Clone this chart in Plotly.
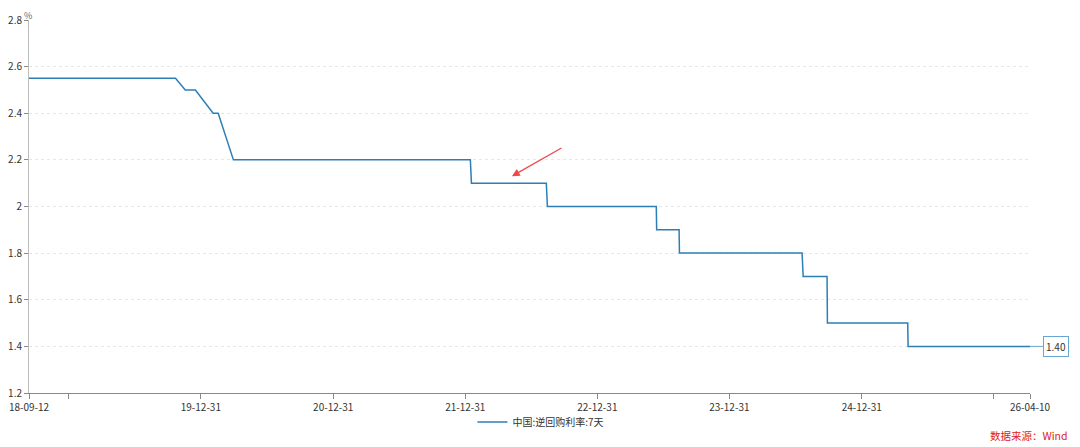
import plotly.graph_objects as go

dates = ["2018-09-12", "2019-10-22", "2019-11-18", "2019-12-16", "2020-02-03", "2020-02-17",
         "2020-03-30", "2022-01-14", "2022-01-17", "2022-08-12", "2022-08-15", "2023-06-12",
         "2023-06-13", "2023-08-14", "2023-08-15", "2024-07-19", "2024-07-22", "2024-09-26",
         "2024-09-27", "2025-05-07", "2025-05-08", "2026-04-10"]
rates = [2.55, 2.55, 2.50, 2.50, 2.40, 2.40,
         2.20, 2.20, 2.10, 2.10, 2.00, 2.00,
         1.90, 1.90, 1.80, 1.80, 1.70, 1.70,
         1.50, 1.50, 1.40, 1.40]
series_name = "中国:逆回购利率:7天"
tick_dates = ["2018-09-12", "2018-12-31", "2019-12-31", "2020-12-31", "2021-12-31",
              "2022-12-31", "2023-12-31", "2024-12-31", "2025-12-31", "2026-04-10"]
tick_labels = ["18-09-12", "", "19-12-31", "20-12-31", "21-12-31",
               "22-12-31", "23-12-31", "24-12-31", "", "26-04-10"]
y_ticks = [1.2, 1.4, 1.6, 1.8, 2.0, 2.2, 2.4, 2.6, 2.8]
y_labels = ["1.2", "1.4", "1.6", "1.8", "2", "2.2", "2.4", "2.6", "2.8"]

FONT = "Noto Sans CJK SC, Noto Sans, sans-serif"
LINE = "#2E7EB6"

fig = go.Figure()
fig.add_trace(go.Scatter(x=dates, y=rates, mode="lines", name=series_name,
                         line=dict(color=LINE, width=1.5)))

# page body has an 8px margin; size the figure to fit the 1080x447 window
fig.update_layout(
    width=1072, height=439,
    margin=dict(l=21, r=50, t=12, b=54, autoexpand=False),
    paper_bgcolor="white", plot_bgcolor="white",
    font=dict(family=FONT, size=10, color="#333333"),
    showlegend=True,
    legend=dict(orientation="h", x=0.443, y=-0.078, xanchor="left", yanchor="middle",
                font=dict(size=10, color="#333333"), itemwidth=30,
                bgcolor="rgba(0,0,0,0)"),
    xaxis=dict(type="date", range=["2018-09-12", "2026-04-10"], automargin=False,
               tickmode="array", tickvals=tick_dates, ticktext=tick_labels,
               showgrid=False, zeroline=False,
               showline=True, linecolor="#888888", linewidth=1,
               ticks="outside", ticklen=5, tickcolor="#888888",
               tickfont=dict(size=10, color="#333333")),
    yaxis=dict(range=[1.2, 2.8], tickmode="array", tickvals=y_ticks, ticktext=y_labels,
               automargin=False,
               showgrid=True, gridcolor="#e6e6e6", griddash="3px,3px", gridwidth=1,
               zeroline=False, showline=True, linecolor="#bbbbbb", linewidth=1,
               ticks="outside", ticklen=4, tickcolor="#888888",
               tickfont=dict(size=10, color="#333333")),
)

# "%" unit label
fig.add_annotation(x=0, y=1.0, xref="paper", yref="paper", text="%", showarrow=False,
                   xanchor="center", yanchor="middle", yshift=5, xshift=-1, borderpad=0,
                   font=dict(size=9, color="#666666"))

# end value label
fig.add_annotation(x=dates[-1], y=rates[-1], xref="x", yref="y", text=f"{rates[-1]:.2f}",
                   showarrow=True, arrowhead=0, arrowcolor="#6aa7cf", arrowwidth=1,
                   ax=13, ay=0, xanchor="left", bordercolor="#6aa7cf", borderwidth=1,
                   borderpad=2, bgcolor="white", font=dict(size=10, color="#333333"))

# red arrow
fig.add_annotation(x="2022-05-09", y=2.13, xref="x", yref="y", text="",
                   showarrow=True, arrowhead=2, arrowsize=1.2, arrowwidth=1.3,
                   arrowcolor="#f04848", ax=51, ay=-29)

# source
fig.add_annotation(x=1.0, y=0, xref="paper", yref="paper", text="数据来源：Wind",
                   showarrow=False, xanchor="right", yanchor="bottom", xshift=40, yshift=-52,
                   font=dict(size=10.5, color="#e02020"))

fig.write_html("out.html")
